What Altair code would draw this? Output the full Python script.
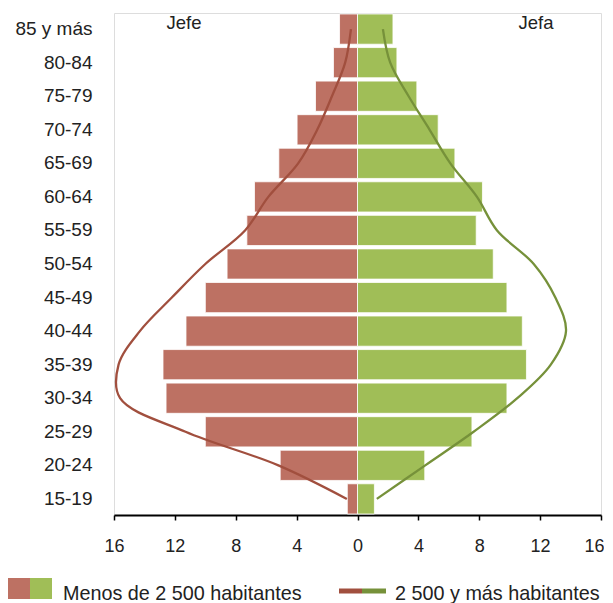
import altair as alt
import pandas as pd

# Age groups, bottom to top
ages = ["15-19", "20-24", "25-29", "30-34", "35-39", "40-44", "45-49",
        "50-54", "55-59", "60-64", "65-69", "70-74", "75-79", "80-84", "85 y más"]

# Menos de 2 500 habitantes (bars)
jefe_menos = [0.67, 5.08, 10.0, 12.58, 12.78, 11.27, 10.0, 8.57, 7.27, 6.77, 5.17, 3.97, 2.76, 1.58, 1.18]
jefa_menos = [1.11, 4.42, 7.52, 9.82, 11.1, 10.83, 9.82, 8.92, 7.8, 8.21, 6.4, 5.3, 3.9, 2.59, 2.33]

# 2 500 y más habitantes (lines)
jefe_mas = [0.7, 5.2, 11.3, 15.6, 15.7, 14.3, 12.2, 10.0, 7.39, 5.86, 3.9, 2.65, 1.68, 0.81, 0.43]
jefa_mas = [1.27, 4.45, 7.63, 10.5, 12.7, 13.7, 13.0, 11.58, 9.17, 7.85, 6.1, 4.74, 3.36, 2.15, 1.67]

side_labels = ["Jefe", "Jefa"]
legend_labels = ["Menos de 2 500 habitantes", "2 500 y más habitantes"]
x_ticks = [-16, -12, -8, -4, 0, 4, 8, 12, 16]

series = ["Jefe menos", "Jefa menos", "Jefe más", "Jefa más"]
colors = ["#BD7163", "#A0BE57", "#A14F3E", "#76913A"]

age_order = list(reversed(ages))

bars_df = pd.DataFrame({
    "age": ages * 2,
    "value": [-v for v in jefe_menos] + jefa_menos,
    "serie": ["Jefe menos"] * len(ages) + ["Jefa menos"] * len(ages),
})
lines_df = pd.DataFrame({
    "age": ages * 2,
    "idx": list(range(len(ages))) * 2,
    "value": [-v for v in jefe_mas] + jefa_mas,
    "serie": ["Jefe más"] * len(ages) + ["Jefa más"] * len(ages),
})

FONT = "Liberation Sans"
color_scale = alt.Scale(domain=series, range=colors)

x_enc = alt.X(
    "value:Q",
    scale=alt.Scale(domain=[-16, 16], nice=False, zero=False),
    axis=alt.Axis(values=x_ticks, labelExpr="abs(datum.value)", title=None,
                  grid=False, domainColor="#000000", domainWidth=2,
                  tickColor="#000000", tickWidth=1.5, tickSize=5,
                  labelFontSize=18, labelColor="#222222", labelPadding=17,
                  labelFont=FONT, labelFlush=False, labelOverlap=False,
                  labelAlign={"expr": "datum.value == 16 ? 'right' : 'center'"},
                  labelOffset={"expr": "datum.value == 16 ? 3 : 0"}),
)
y_enc = alt.Y(
    "age:N", sort=age_order,
    scale=alt.Scale(paddingInner=0.1, paddingOuter=0.03),
    axis=alt.Axis(title=None, domain=False, ticks=False, labelPadding=22,
                  labelFontSize=19, labelColor="#222222", labelFont=FONT),
)

bars = alt.Chart(bars_df).mark_bar(stroke="#FFFFFF", strokeWidth=0.8).encode(
    x=x_enc, y=y_enc,
    color=alt.Color("serie:N", scale=color_scale, legend=None),
)

lines = alt.Chart(lines_df).mark_line(interpolate="catmull-rom", strokeWidth=2.3).encode(
    x=alt.X("value:Q"),
    y=alt.Y("age:N", sort=age_order),
    color=alt.Color("serie:N", scale=color_scale, legend=None),
    order=alt.Order("idx:Q"),
)

one = pd.DataFrame({"k": [0]})

title_jefe = alt.Chart(one).mark_text(font=FONT, fontSize=18.5, color="#222222",
                                      baseline="middle", align="center",
                                      text=side_labels[0]).encode(
    x=alt.value(70), y=alt.value(10))
title_jefa = alt.Chart(one).mark_text(font=FONT, fontSize=18.5, color="#222222",
                                      baseline="middle", align="center",
                                      text=side_labels[1]).encode(
    x=alt.value(422), y=alt.value(10))

leg_sq_red = alt.Chart(one).mark_rect(color=colors[0]).encode(
    x=alt.value(-106), x2=alt.value(-84), y=alt.value(565), y2=alt.value(586))
leg_sq_green = alt.Chart(one).mark_rect(color=colors[1]).encode(
    x=alt.value(-84), x2=alt.value(-62), y=alt.value(565), y2=alt.value(586))
leg_txt1 = alt.Chart(one).mark_text(font=FONT, fontSize=19.8, color="#222222",
                                    align="left", baseline="alphabetic",
                                    text=legend_labels[0]).encode(
    x=alt.value(-51), y=alt.value(587))
leg_ln_red = alt.Chart(one).mark_rule(color=colors[2], strokeWidth=5).encode(
    x=alt.value(225), x2=alt.value(248), y=alt.value(578))
leg_ln_green = alt.Chart(one).mark_rule(color=colors[3], strokeWidth=5).encode(
    x=alt.value(248), x2=alt.value(272), y=alt.value(578))
leg_txt2 = alt.Chart(one).mark_text(font=FONT, fontSize=19.8, color="#222222",
                                    align="left", baseline="alphabetic",
                                    text=legend_labels[1]).encode(
    x=alt.value(281), y=alt.value(587))

chart = alt.layer(
    bars, lines, title_jefe, title_jefa,
    leg_sq_red, leg_sq_green, leg_txt1, leg_ln_red, leg_ln_green, leg_txt2,
).properties(
    width=487, height=502,
    padding={"left": 0, "top": 5, "right": 0, "bottom": 0},
    background="#FFFFFF",
).configure_view(stroke=None).configure(font=FONT)

chart.save("out.html", embed_options={"renderer": "svg", "actions": False})
